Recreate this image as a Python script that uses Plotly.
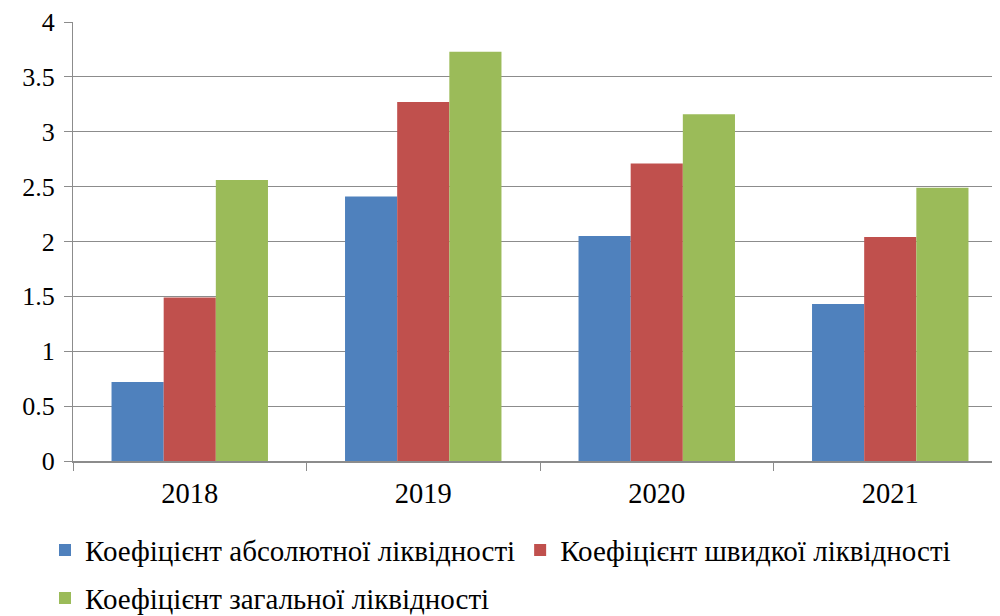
import plotly.graph_objects as go

years = ["2018", "2019", "2020", "2021"]
absolute_liq = [0.72, 2.41, 2.05, 1.43]
quick_liq = [1.49, 3.27, 2.71, 2.04]
total_liq = [2.56, 3.73, 3.16, 2.49]

series_names = [
    "Коефіцієнт абсолютної ліквідності",
    "Коефіцієнт швидкої ліквідності",
    "Коефіцієнт загальної ліквідності",
]
colors = ["#4F81BD", "#C0504D", "#9BBB59"]
legend_ids = ["legend", "legend", "legend2"]

font_family = "Liberation Serif"

fig = go.Figure()
for name, vals, col, lg in zip(series_names, [absolute_liq, quick_liq, total_liq], colors, legend_ids):
    fig.add_trace(go.Bar(x=years, y=vals, name=name, legend=lg,
                         marker=dict(color=col, line=dict(width=0))))

# page body has an 8px margin, so figure coords are shifted by 8px
legend_style = dict(
    orientation="h",
    xref="container",
    yref="container",
    xanchor="left",
    yanchor="middle",
    font=dict(family=font_family, size=29, color="black"),
    itemwidth=30,
    bgcolor="rgba(0,0,0,0)",
)

fig.update_layout(
    barmode="group",
    bargap=0.33,
    bargroupgap=0,
    width=1000,
    height=616,
    plot_bgcolor="white",
    paper_bgcolor="white",
    margin=dict(l=65, r=8, t=14, b=163),
    font=dict(family=font_family, size=26, color="black"),
    legend=dict(x=0.037, y=0.12, **legend_style),
    legend2=dict(x=0.037, y=0.042, **legend_style),
)

fig.update_yaxes(
    range=[0, 4],
    dtick=0.5,
    automargin=False,
    showgrid=True,
    gridcolor="#8C8C8C",
    gridwidth=1.3,
    showline=True,
    linecolor="#8C8C8C",
    linewidth=1.3,
    ticks="outside",
    ticklen=8,
    tickcolor="#8C8C8C",
    zeroline=False,
    tickfont=dict(family=font_family, size=26, color="black"),
    ticklabelstandoff=4,
)

fig.update_xaxes(
    type="category",
    range=[-0.5, 3.47],
    automargin=False,
    showline=True,
    linecolor="#8C8C8C",
    linewidth=2,
    ticks="outside",
    tickson="boundaries",
    ticklen=8,
    tickcolor="#8C8C8C",
    showgrid=False,
    tickfont=dict(family=font_family, size=28.5, color="black"),
    ticklabelstandoff=6,
)

fig.write_html("out.html")
